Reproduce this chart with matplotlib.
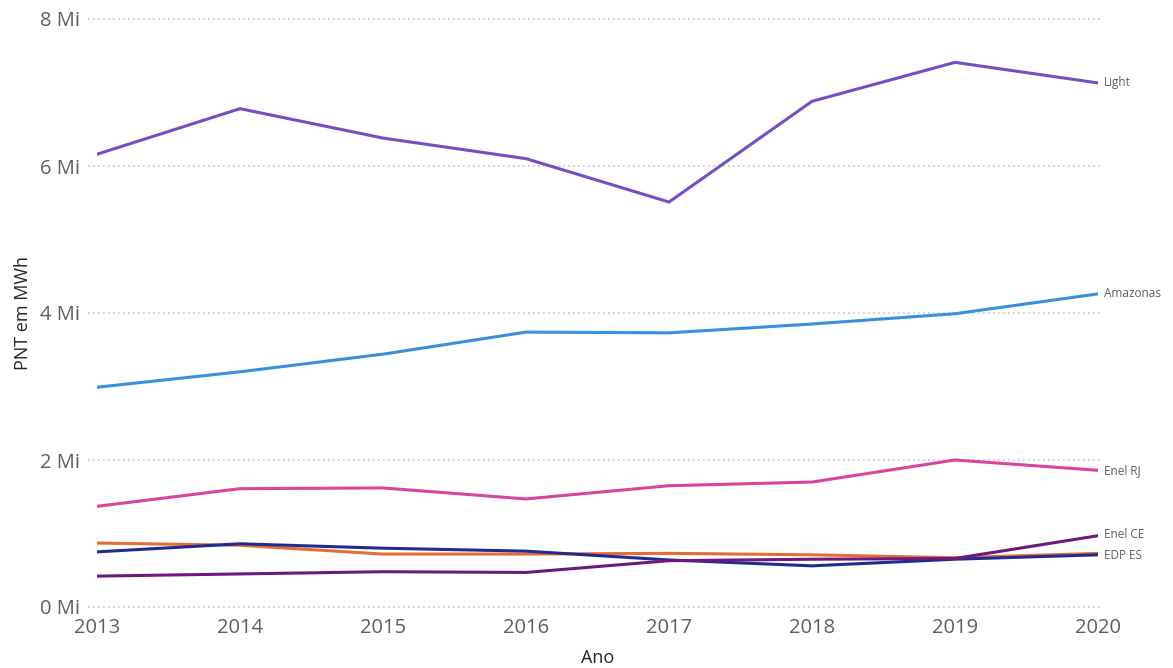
import matplotlib.pyplot as plt

years = [2013, 2014, 2015, 2016, 2017, 2018, 2019, 2020]

light = [6.16, 6.78, 6.38, 6.10, 5.51, 6.88, 7.41, 7.13]
amazonas = [2.99, 3.20, 3.44, 3.74, 3.73, 3.85, 3.99, 4.26]
enel_rj = [1.37, 1.61, 1.62, 1.47, 1.65, 1.70, 2.00, 1.86]
edp_es = [0.87, 0.84, 0.72, 0.72, 0.73, 0.71, 0.67, 0.73]
other = [0.75, 0.86, 0.80, 0.76, 0.64, 0.56, 0.65, 0.71]
enel_ce = [0.42, 0.45, 0.48, 0.47, 0.63, 0.65, 0.66, 0.97]

y_ticks = [0, 2, 4, 6, 8]
y_labels = ["0 Mi", "2 Mi", "4 Mi", "6 Mi", "8 Mi"]

plt.rcParams['font.family'] = ['Open Sans', 'DejaVu Sans']

fig = plt.figure(figsize=(11.73, 6.68), dpi=100)
ax = fig.add_axes([97 / 1173, 1 - 607 / 668, (1098 - 97) / 1173, (607 - 19) / 668])

series = [
    (light, "#744EC2"),
    (amazonas, "#3A8FDB"),
    (enel_rj, "#D9449F"),
    (edp_es, "#E66C37"),
    (other, "#1F2C8F"),
    (enel_ce, "#6B1A7B"),
]
for vals, col in series:
    ax.plot(years, vals, color=col, lw=2.2, solid_capstyle='round')

# end labels
ax.text(2020.04, light[-1], "Light", fontsize=8.5, color="#605E5C", va='center')
ax.text(2020.04, amazonas[-1], "Amazonas", fontsize=8.5, color="#605E5C", va='center')
ax.text(2020.04, enel_rj[-1], "Enel RJ", fontsize=8.5, color="#605E5C", va='center')
ax.text(2020.04, enel_ce[-1] + 0.02, "Enel CE", fontsize=8.5, color="#605E5C", va='center')
ax.text(2020.04, edp_es[-1] - 0.03, "EDP ES", fontsize=8.5, color="#605E5C", va='center')

ax.set_xlim(2013, 2020)
ax.set_ylim(0, 8)
ax.set_yticks(y_ticks)
ax.set_yticklabels(y_labels)
ax.set_xticks(years)
ax.set_xticklabels([str(y) for y in years])
ax.tick_params(axis='both', length=0, labelsize=14.5, colors="#605E5C")
ax.tick_params(axis='y', pad=12)
ax.tick_params(axis='x', pad=8)
for t in y_ticks:
    ax.axhline(t, xmin=-0.009, xmax=1.002, color="#C8C6C4", linestyle=(0, (1, 2)),
               lw=1.2, clip_on=False, zorder=0)
for s in ax.spines.values():
    s.set_visible(False)
ax.set_xlabel("Ano", fontsize=13, color="#252423")
ax.xaxis.set_label_coords(0.5, -0.072)
ax.set_ylabel("PNT em MWh", fontsize=13, color="#252423", va='center')
ax.yaxis.set_label_coords(-0.074, 0.5)

fig.savefig("out.png", dpi=100)
